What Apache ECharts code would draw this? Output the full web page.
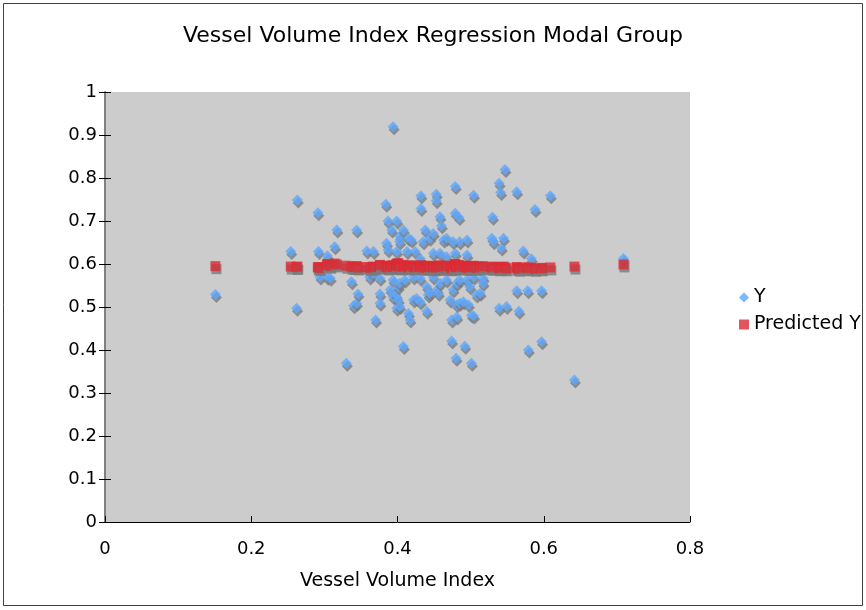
<!DOCTYPE html>
<html>
<head>
<meta charset="utf-8">
<script src="https://cdn.jsdelivr.net/npm/echarts@6/dist/echarts.min.js"></script>
<style>
  html, body { margin: 0; padding: 0; background: #fff; }
  #chart { width: 866px; height: 610px; }
</style>
</head>
<body>
<div id="chart"></div>
<script>
// Vessel Volume Index (x), observed Y, predicted Y
var volIndex = [
  0.151, 0.254, 0.262, 0.263, 0.291, 0.292, 0.294, 0.304, 0.304, 0.308,
  0.314, 0.317, 0.330, 0.337, 0.340, 0.344, 0.344, 0.346, 0.358, 0.362,
  0.366, 0.367, 0.370, 0.376, 0.376, 0.376, 0.384, 0.385, 0.387, 0.387,
  0.390, 0.392, 0.394, 0.394, 0.394, 0.398, 0.399, 0.399, 0.399, 0.401,
  0.401, 0.403, 0.403, 0.403, 0.403, 0.408, 0.408, 0.410, 0.413, 0.415,
  0.415, 0.417, 0.419, 0.422, 0.422, 0.424, 0.426, 0.431, 0.431, 0.431,
  0.432, 0.432, 0.435, 0.438, 0.440, 0.440, 0.442, 0.444, 0.444, 0.449,
  0.449, 0.449, 0.453, 0.453, 0.454, 0.456, 0.458, 0.458, 0.458, 0.460,
  0.463, 0.467, 0.467, 0.467, 0.472, 0.474, 0.474, 0.476, 0.476, 0.479,
  0.479, 0.479, 0.480, 0.481, 0.481, 0.481, 0.484, 0.485, 0.485, 0.485,
  0.490, 0.492, 0.495, 0.495, 0.495, 0.497, 0.499, 0.501, 0.501, 0.504,
  0.504, 0.504, 0.508, 0.513, 0.517, 0.517, 0.529, 0.530, 0.531, 0.539,
  0.539, 0.541, 0.542, 0.545, 0.547, 0.549, 0.563, 0.563, 0.566, 0.572,
  0.578, 0.579, 0.583, 0.588, 0.597, 0.597, 0.609, 0.642, 0.709
];
var yObserved = [
  0.529, 0.629, 0.497, 0.749, 0.719, 0.629, 0.570, 0.619, 0.569, 0.567,
  0.640, 0.679, 0.369, 0.559, 0.503, 0.509, 0.679, 0.530, 0.630, 0.570,
  0.578, 0.629, 0.470, 0.530, 0.509, 0.567, 0.739, 0.648, 0.700, 0.633,
  0.540, 0.679, 0.919, 0.563, 0.524, 0.528, 0.700, 0.497, 0.629, 0.547,
  0.516, 0.664, 0.652, 0.501, 0.555, 0.679, 0.408, 0.563, 0.629, 0.660,
  0.485, 0.470, 0.656, 0.570, 0.516, 0.629, 0.520, 0.512, 0.613, 0.567,
  0.759, 0.729, 0.652, 0.679, 0.547, 0.490, 0.528, 0.660, 0.532, 0.671,
  0.570, 0.625, 0.762, 0.747, 0.540, 0.532, 0.710, 0.625, 0.555, 0.689,
  0.656, 0.660, 0.617, 0.563, 0.516, 0.470, 0.421, 0.652, 0.540, 0.780,
  0.718, 0.625, 0.381, 0.505, 0.477, 0.555, 0.708, 0.652, 0.563, 0.509,
  0.512, 0.409, 0.656, 0.621, 0.563, 0.505, 0.547, 0.369, 0.481, 0.760,
  0.479, 0.570, 0.528, 0.532, 0.567, 0.555, 0.660, 0.709, 0.652, 0.788,
  0.497, 0.766, 0.637, 0.660, 0.820, 0.501, 0.768, 0.538, 0.490, 0.630,
  0.538, 0.400, 0.612, 0.727, 0.538, 0.419, 0.759, 0.330, 0.613
];
var yPredicted = [
  0.595, 0.594, 0.593, 0.594, 0.592, 0.593, 0.591, 0.600, 0.598, 0.596,
  0.601, 0.599, 0.596, 0.594, 0.593, 0.595, 0.594, 0.592, 0.593, 0.591,
  0.594, 0.592, 0.593, 0.597, 0.595, 0.598, 0.596, 0.593, 0.595, 0.592,
  0.594, 0.596, 0.597, 0.595, 0.593, 0.598, 0.601, 0.599, 0.596, 0.602,
  0.597, 0.594, 0.592, 0.596, 0.595, 0.598, 0.593, 0.595, 0.594, 0.596,
  0.592, 0.594, 0.597, 0.593, 0.595, 0.592, 0.594, 0.596, 0.593, 0.595,
  0.597, 0.594, 0.592, 0.595, 0.593, 0.591, 0.594, 0.596, 0.593, 0.590,
  0.595, 0.593, 0.591, 0.594, 0.592, 0.595, 0.597, 0.594, 0.592, 0.593,
  0.595, 0.591, 0.593, 0.596, 0.594, 0.592, 0.590, 0.593, 0.595, 0.597,
  0.600, 0.596, 0.592, 0.594, 0.596, 0.593, 0.598, 0.595, 0.592, 0.594,
  0.596, 0.593, 0.595, 0.592, 0.594, 0.591, 0.593, 0.595, 0.592, 0.594,
  0.596, 0.593, 0.591, 0.594, 0.592, 0.595, 0.593, 0.591, 0.594, 0.592,
  0.590, 0.593, 0.591, 0.594, 0.592, 0.590, 0.593, 0.591, 0.589, 0.592,
  0.590, 0.592, 0.591, 0.589, 0.591, 0.590, 0.592, 0.594, 0.599
];

var seriesNames = ['Y', 'Predicted Y'];

function pairs(xs, ys) {
  var out = [];
  for (var i = 0; i < xs.length; i++) out.push([xs[i], ys[i]]);
  return out;
}

var font = 'DejaVu Sans, Verdana, sans-serif';
var myChart = echarts.init(document.getElementById('chart'));

var option = {
  animation: false,
  backgroundColor: '#fff',
  title: {
    text: 'Vessel Volume Index Regression Modal Group',
    left: 'center',
    top: 20,
    textStyle: { fontFamily: font, fontSize: 22, fontWeight: 'normal', color: '#000' }
  },
  legend: {
    orient: 'vertical',
    left: 734,
    top: 283,
    itemWidth: 10,
    itemHeight: 10,
    itemGap: 8,
    textStyle: { fontFamily: font, fontSize: 19, color: '#000' },
    data: [
      { name: seriesNames[0], icon: 'diamond' },
      { name: seriesNames[1], icon: 'rect' }
    ]
  },
  graphic: [{
    type: 'rect',
    shape: { x: 3.5, y: 3.5, width: 859, height: 602 },
    style: { fill: 'none', stroke: '#404040', lineWidth: 1 },
    silent: true
  }],
  grid: {
    left: 105, right: 176, top: 92, bottom: 88,
    show: true, backgroundColor: '#cccccc', borderWidth: 0
  },
  xAxis: {
    type: 'value',
    min: 0, max: 0.8, interval: 0.2,
    name: 'Vessel Volume Index',
    nameLocation: 'middle',
    nameGap: 50,
    nameTextStyle: { fontFamily: font, fontSize: 19, color: '#000' },
    splitLine: { show: false },
    axisLine: { onZero: false, lineStyle: { color: '#000', width: 1 } },
    axisTick: { inside: true, length: 6, lineStyle: { color: '#000' } },
    axisLabel: { margin: 18, fontFamily: font, fontSize: 18, color: '#000' }
  },
  yAxis: [{
    type: 'value',
    min: 0, max: 1, interval: 0.1,
    splitLine: { show: false },
    axisLine: { show: true, lineStyle: { color: '#808080', width: 2 } },
    axisTick: { show: true, length: 6, lineStyle: { color: '#000' } },
    axisLabel: { margin: 8, fontFamily: font, fontSize: 18, color: '#000' }
  }, {
    type: 'value',
    position: 'left',
    min: 0, max: 1, interval: 0.1,
    splitLine: { show: false },
    axisLine: { show: false },
    axisTick: { show: true, inside: true, length: 6, lineStyle: { color: '#000' } },
    axisLabel: { show: false }
  }],
  series: [{
    name: seriesNames[0],
    type: 'scatter',
    symbol: 'diamond',
    symbolSize: 11,
    itemStyle: {
      color: '#5ea8fc',
      shadowColor: '#7a7a7a', shadowBlur: 0, shadowOffsetX: 1, shadowOffsetY: 3
    },
    emphasis: { disabled: true },
    data: pairs(volIndex, yObserved)
  }, {
    name: seriesNames[1],
    type: 'scatter',
    symbol: 'rect',
    symbolSize: 10,
    itemStyle: {
      color: '#dc2a33',
      shadowColor: '#7a7a7a', shadowBlur: 0, shadowOffsetX: 1, shadowOffsetY: 3
    },
    emphasis: { disabled: true },
    data: pairs(volIndex, yPredicted)
  }]
};

myChart.setOption(option);
</script>
</body>
</html>
